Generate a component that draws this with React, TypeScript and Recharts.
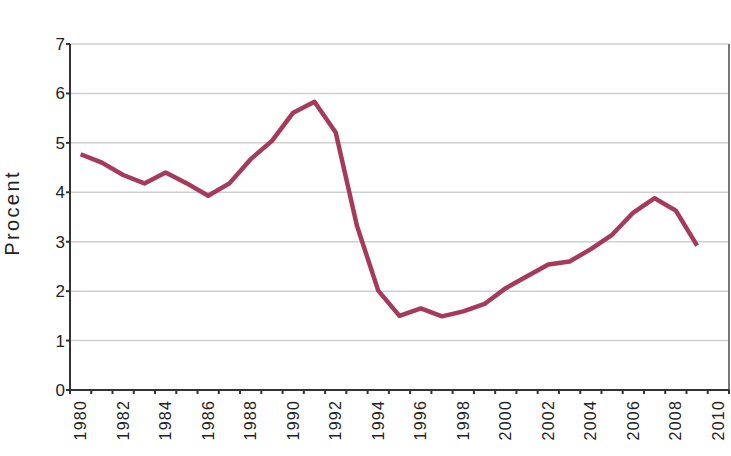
import React from 'react';
import { LineChart, Line, XAxis, YAxis, CartesianGrid, ReferenceLine } from 'recharts';

const years = [1980,1981,1982,1983,1984,1985,1986,1987,1988,1989,1990,1991,1992,1993,1994,1995,1996,1997,1998,1999,2000,2001,2002,2003,2004,2005,2006,2007,2008,2009];
const procent = [4.77,4.60,4.35,4.18,4.40,4.18,3.93,4.18,4.67,5.04,5.61,5.83,5.21,3.32,2.01,1.50,1.65,1.49,1.59,1.74,2.06,2.30,2.54,2.60,2.85,3.14,3.59,3.88,3.63,2.92];
const xLabels = [1980,1982,1984,1986,1988,1990,1992,1994,1996,1998,2000,2002,2004,2006,2008,2010];
const yTicks = [0,1,2,3,4,5,6,7];
const lastYear = 2010;

const data = years.map((y, i) => ({ year: y, value: procent[i] }));
const bandEdges = [years[0] - 0.5, ...years.map(y => y + 0.5), lastYear + 0.5];
const FONT = '"Liberation Sans", Arial, Helvetica, sans-serif';

const XLabel = (props: any) => {
  const { x, y, payload } = props;
  return (
    <text x={x} y={y} dy="0.35em" transform={`rotate(-90 ${x} ${y})`} textAnchor="end"
      fontSize={16} letterSpacing={1.2} fill="#222" fontFamily={FONT}>
      {payload.value}
    </text>
  );
};

const YLabel = (props: any) => {
  const vb = props.viewBox || {};
  const cx = 12;
  const cy = (vb.y ?? 0) + (vb.height ?? 0) / 2 - 4;
  return (
    <text x={cx} y={cy} dy="0.35em" transform={`rotate(-90 ${cx} ${cy})`} textAnchor="middle"
      fontSize={20} letterSpacing={2.4} fill="#222" fontFamily={FONT}>
      Procent
    </text>
  );
};

export default function App() {
  return (
    <div style={{ position: 'absolute', left: 0, top: 0, background: '#fff' }}>
      <LineChart width={731} height={456} data={data}
        margin={{ top: 44, right: 2, bottom: 10, left: 0 }}>
        <CartesianGrid xAxisId="a" vertical={false} stroke="#cfcfcf" strokeWidth={1.5} />
        <XAxis xAxisId="a" dataKey="year" type="number" domain={[years[0] - 0.5, lastYear + 0.5]}
          ticks={bandEdges} interval={0} height={4} tickSize={4}
          tick={() => <g />} axisLine={{ stroke: '#333', strokeWidth: 2 }}
          tickLine={{ stroke: '#333', strokeWidth: 2 }} />
        <XAxis xAxisId="b" dataKey="year" type="number" domain={[years[0] - 0.5, lastYear + 0.5]}
          ticks={xLabels} interval={0} height={52} tickSize={0} tickMargin={6}
          axisLine={false} tickLine={false} tick={<XLabel />} />
        <YAxis width={70} domain={[0, 7]} ticks={yTicks} interval={0} tickSize={4} tickMargin={1}
          axisLine={{ stroke: '#333', strokeWidth: 2 }} tickLine={{ stroke: '#333', strokeWidth: 2 }}
          tick={{ fontSize: 17, fill: '#222', fontFamily: FONT }}
          label={<YLabel />} />
        <ReferenceLine xAxisId="a" x={lastYear + 0.5} stroke="#777" strokeWidth={2} />
        <Line xAxisId="a" type="linear" dataKey="value" stroke="#a53a5b" strokeWidth={4.5}
          dot={false} isAnimationActive={false} strokeLinejoin="round" />
      </LineChart>
    </div>
  );
}
